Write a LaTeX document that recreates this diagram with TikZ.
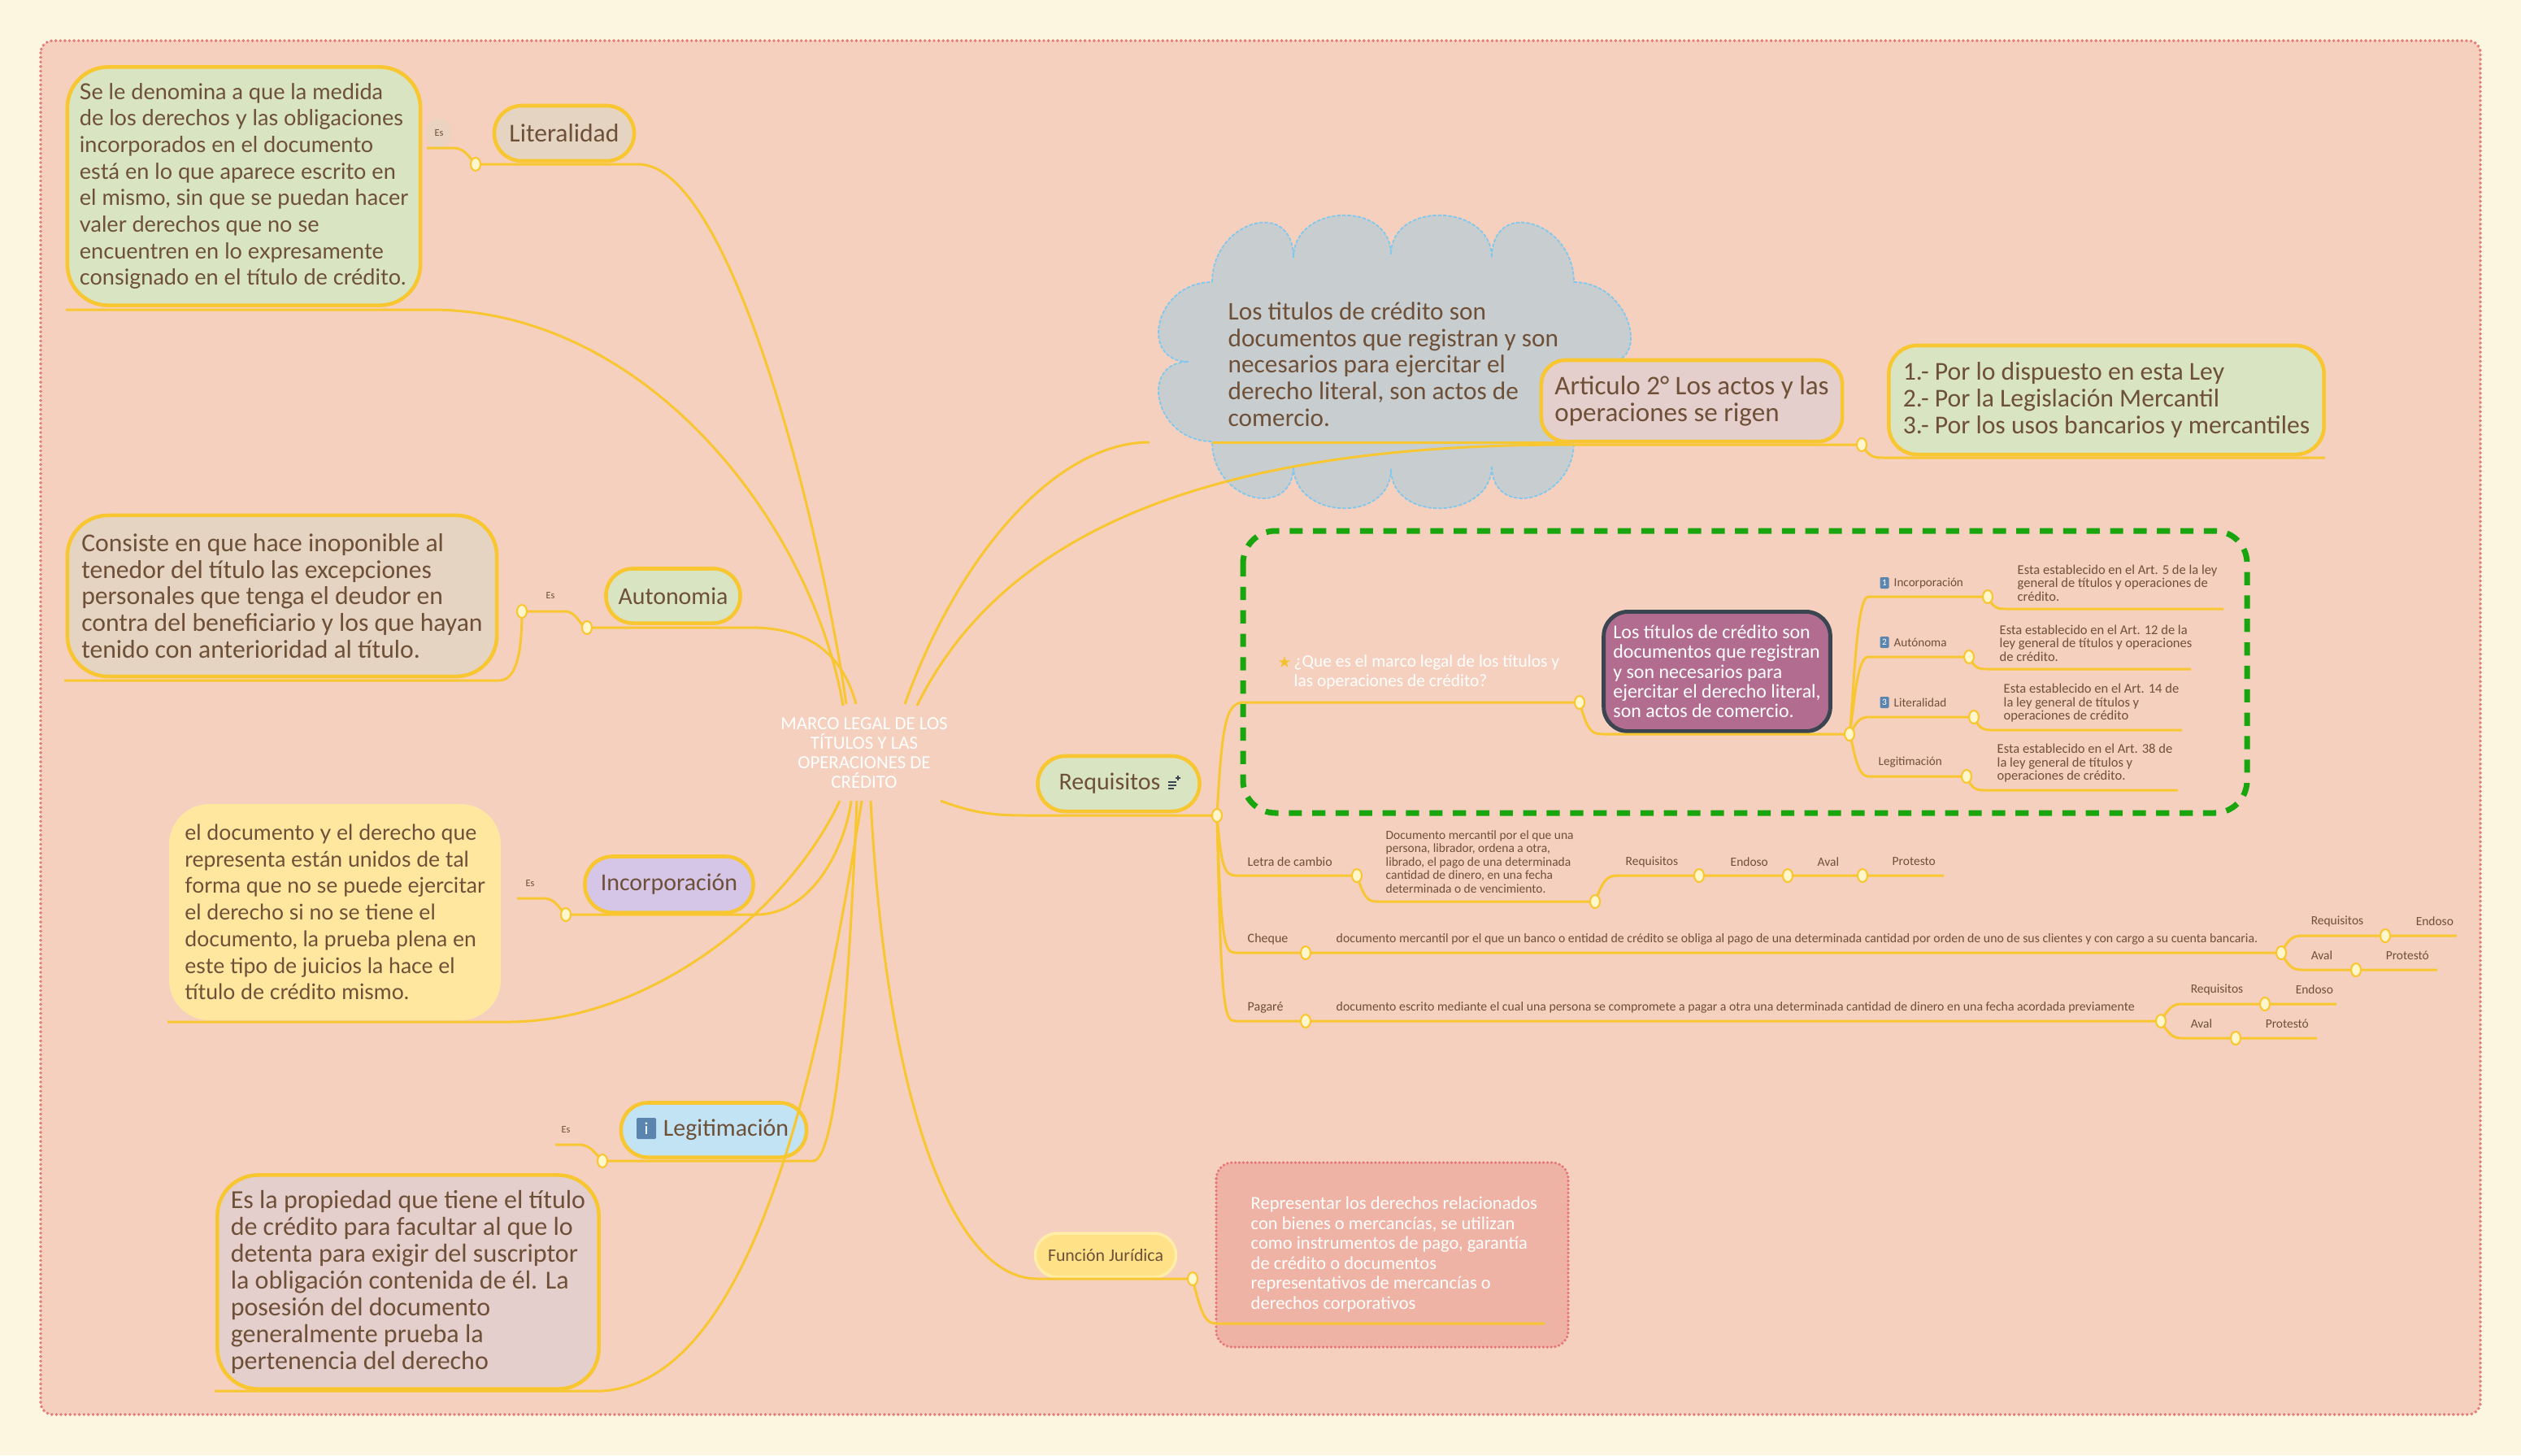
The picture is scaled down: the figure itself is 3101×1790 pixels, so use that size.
\documentclass[tikz,border=0pt]{standalone}
\usepackage{fontspec}
\setmainfont{Carlito}
\newfontfamily\roundfont{Lato}
\newfontfamily\symfont{DejaVu Sans}
\usetikzlibrary{shapes.geometric}
\definecolor{pagebg}{HTML}{FCF5E0}
\definecolor{mapbg}{HTML}{F5D0BE}
\definecolor{mapborder}{HTML}{E37B76}
\definecolor{yline}{HTML}{F8C630}
\definecolor{brown}{HTML}{6E5038}
\definecolor{greenbox}{HTML}{D9E4C3}
\definecolor{beigebox}{HTML}{E5D4C2}
\definecolor{lavbox}{HTML}{D5C5E6}
\definecolor{yelbox}{HTML}{FFE7A0}
\definecolor{bluebox}{HTML}{C2E3F3}
\definecolor{pinkbox}{HTML}{E5CFCC}
\definecolor{cloudfill}{HTML}{C8CDCF}
\definecolor{cloudline}{HTML}{7CC8F0}
\definecolor{dashgreen}{HTML}{19A50D}
\definecolor{purplebox}{HTML}{B26C8F}
\definecolor{purpleline}{HTML}{3B4552}
\definecolor{funfill}{HTML}{FFE288}
\definecolor{funline}{HTML}{FFEDA8}
\definecolor{redfill}{HTML}{EFB3A5}
\definecolor{redline}{HTML}{E57373}
\definecolor{iconblue}{HTML}{5A85AE}
\definecolor{dotfill}{HTML}{FFF6CC}
\definecolor{stargold}{HTML}{F2C230}
\newcommand\setfs[2]{\fontsize{#1}{#2}\selectfont}

\begin{document}
\begin{tikzpicture}[x=0.01cm,y=-0.01cm]
  \tikzstyle{conn} = [draw=yline, line width=0.85pt]
  \tikzstyle{dot} = [ellipse, draw=yline, fill=dotfill, line width=0.6pt, minimum width=0.12cm, minimum height=0.16cm, inner sep=0pt]
  \tikzstyle{topic} = [draw=yline, line width=1.3pt, text=brown, align=left, inner sep=2pt]
  \tikzstyle{small} = [text=brown, inner sep=0pt, anchor=west, align=left]
  \tikzstyle{icon} = [fill=iconblue, text=white, rounded corners=0.4pt, inner sep=0pt, minimum width=0.11cm, minimum height=0.14cm, font=\setfs{3.2}{4}]
  \tikzstyle{eslabel} = [text=brown, inner sep=0pt, font=\setfs{3.5}{4}]
  \useasboundingbox (0,0) rectangle (3101,1790);
  \fill[pagebg] (0,0) rectangle (3101,1790);
  \filldraw[fill=mapbg, draw=mapborder, line width=1.1pt, dash pattern=on 0pt off 1.6pt, line cap=round, rounded corners=0.15cm] (50,50) rectangle (3051,1740);

  \node (mc) [text=white, align=center, font=\setfs{6.5}{6.8}] at (1063,926) {MARCO LEGAL DE LOS\\TÍTULOS Y LAS\\OPERACIONES DE\\CRÉDITO};

  \node (lit) [topic, fill=beigebox, rounded corners=0.34cm, minimum width=1.72cm, minimum height=0.68cm, font=\setfs{9}{10}] at (694,164) {Literalidad};
  \node (litdesc) [topic, fill=greenbox, rounded corners=0.5cm, minimum width=4.34cm, minimum height=2.93cm, font=\roundfont\setfs{7.7}{9.3}] at (300,229) {Se le denomina a que la medida\\de los derechos y las obligaciones\\incorporados en el documento\\está en lo que aparece escrito en\\el mismo, sin que se puedan hacer\\valer derechos que no se\\encuentren en lo expresamente\\consignado en el título de crédito.};
  \node (litesbg) [ellipse, fill=beigebox!70!mapbg, minimum width=0.3cm, minimum height=0.36cm, inner sep=0pt] at (540,164) {};
  \node (lites) [eslabel] at (540,164) {Es};

  \node (aut) [topic, fill=greenbox, rounded corners=0.33cm, minimum width=1.65cm, minimum height=0.67cm, font=\setfs{8.5}{10}] at (828,733) {Autonomia};
  \node (autdesc) [topic, fill=beigebox, rounded corners=0.5cm, minimum width=5.28cm, minimum height=1.98cm, font=\setfs{9}{9.3}] at (347,733) {Consiste en que hace inoponible al\\tenedor del título las excepciones\\personales que tenga el deudor en\\contra del beneficiario y los que hayan\\tenido con anterioridad al título.};
  \node (autes) [eslabel] at (677,733) {Es};

  \node (inc) [topic, fill=lavbox, rounded corners=0.34cm, minimum width=2.07cm, minimum height=0.69cm, font=\setfs{8.5}{10}] at (823,1088) {Incorporación};
  \node (incdesc) [fill=yelbox, text=brown, align=left, rounded corners=0.5cm, minimum width=4.08cm, minimum height=2.66cm, font=\roundfont\setfs{7.55}{9.3}] at (412,1122) {el documento y el derecho que\\representa están unidos de tal\\forma que no se puede ejercitar\\el derecho si no se tiene el\\documento, la prueba plena en\\este tipo de juicios la hace el\\título de crédito mismo.};
  \node (inces) [eslabel] at (652,1087) {Es};

  \node (leg) [topic, fill=bluebox, rounded corners=0.33cm, minimum width=2.28cm, minimum height=0.67cm, font=\setfs{8.5}{10}] at (878,1390) {\hspace{0.3cm}Legitimación};
  \node (legicon) [icon, minimum width=0.24cm, minimum height=0.26cm, font=\setfs{6}{7}] at (795,1388) {i};
  \node (legdesc) [topic, fill=pinkbox, rounded corners=0.5cm, minimum width=4.69cm, minimum height=2.63cm, font=\setfs{9.1}{9.4}] at (502,1577) {Es la propiedad que tiene el título\\de crédito para facultar al que lo\\detenta para exigir del suscriptor\\la obligación contenida de él. La\\posesión del documento\\generalmente prueba la\\pertenencia del derecho};
  \node (leges) [eslabel] at (696,1390) {Es};

  \filldraw[fill=cloudfill, draw=cloudline, line width=0.5pt, dash pattern=on 1.2pt off 0.6pt]
    (1491,347) .. controls (1491,272) and (1591,242) .. (1591,317)
    .. controls (1591,250) and (1711,246) .. (1711,313)
    .. controls (1711,246) and (1835,250) .. (1835,317)
    .. controls (1835,242) and (1936,272) .. (1936,347)
    .. controls (2005,347) and (2030,445) .. (1979,445)
    .. controls (2030,445) and (2005,543) .. (1936,543)
    .. controls (1936,618) and (1835,640) .. (1835,573)
    .. controls (1835,640) and (1711,644) .. (1711,577)
    .. controls (1711,644) and (1591,640) .. (1591,573)
    .. controls (1591,640) and (1491,618) .. (1491,543)
    .. controls (1420,543) and (1400,445) .. (1462,445)
    .. controls (1400,445) and (1420,347) .. (1491,347) -- cycle;
  \node (cloudtxt) [small, font=\setfs{8.9}{9.3}] at (1510,448) {Los titulos de crédito son\\documentos que registran y son\\necesarios para ejercitar el\\derecho literal, son actos de\\comercio.};

  \node (art) [topic, fill=pinkbox, rounded corners=0.3cm, minimum width=3.70cm, minimum height=1.00cm, font=\setfs{9.4}{9.4}] at (2081,493) {Articulo 2° Los actos y las\\operaciones se rigen};
  \node (ley) [topic, fill=greenbox, rounded corners=0.35cm, minimum width=5.35cm, minimum height=1.34cm, font=\setfs{9}{9.4}] at (2591,492) {1.- Por lo dispuesto en esta Ley\\2.- Por la Legislación Mercantil\\3.- Por los usos bancarios y mercantiles};

  \node (req) [topic, fill=greenbox, rounded corners=0.34cm, minimum width=1.99cm, minimum height=0.68cm, font=\setfs{8.5}{10}] at (1376,964) {Requisitos\hspace{0.22cm}};
  \draw[purpleline, line width=0.8pt] (1437,962) -- (1447,962) (1437,966) -- (1447,966) (1437,970) -- (1444,970) (1446,957) -- (1452,957) (1449,954) -- (1449,960);

  \draw[dashgreen, line width=2pt, dash pattern=on 4.6pt off 3.6pt, rounded corners=0.4cm] (1529,653) rectangle (2764,1000);
  \node (questar) [text=stargold, inner sep=0pt, font=\symfont\setfs{5.5}{6}] at (1580,815) {★};
  \node (que) [small, text=white, font=\setfs{6.1}{6.8}] at (1591,827) {¿Que es el marco legal de los títulos y\\las operaciones de crédito?};
  \node (tit) [draw=purpleline, line width=1.4pt, fill=purplebox, text=white, align=left, rounded corners=0.3cm, minimum width=2.76cm, minimum height=1.47cm, font=\setfs{6.8}{6.9}] at (2112,826) {Los títulos de crédito son\\documentos que registran\\y son necesarios para\\ejercitar el derecho literal,\\son actos de comercio.};

  \foreach \n/\y/\t in {1/717/Incorporación, 2/790/Autónoma, 3/864/Literalidad}{
    \node (ic\n) [icon] at (2318,\y) {\n};
    \node (lb\n) [small, font=\setfs{4.3}{5}] at (2329,\y) {\t};
  }
  \node (lb4) [small, font=\setfs{4.3}{5}] at (2310,938) {Legitimación};
  \node (bd1) [small, font=\setfs{4.7}{4.7}] at (2481,717) {Esta establecido en el Art. 5 de la ley\\general de títulos y operaciones de\\crédito.};
  \node (bd2) [small, font=\setfs{4.7}{4.7}] at (2459,791) {Esta establecido en el Art. 12 de la\\ley general de títulos y operaciones\\de crédito.};
  \node (bd3) [small, font=\setfs{4.7}{4.7}] at (2464,865) {Esta establecido en el Art. 14 de\\la ley general de títulos y\\operaciones de crédito};
  \node (bd4) [small, font=\setfs{4.7}{4.7}] at (2456,939) {Esta establecido en el Art. 38 de\\la ley general de títulos y\\operaciones de crédito.};

  \node (let) [small, font=\setfs{4.55}{5}] at (1534,1060) {Letra de cambio};
  \node (letdesc) [small, font=\setfs{4.4}{4.65}] at (1704,1060) {Documento mercantil por el que una\\persona, librador, ordena a otra,\\librado, el pago de una determinada\\cantidad de dinero, en una fecha\\determinada o de vencimiento.};
  \node (che) [small, font=\setfs{4.55}{5}] at (1534,1155) {Cheque};
  \node (chedesc) [small, font=\setfs{4.5}{5}] at (1643,1155) {documento mercantil por el que un banco o entidad de crédito se obliga al pago de una determinada cantidad por orden de uno de sus clientes y con cargo a su cuenta bancaria.};
  \node (pag) [small, font=\setfs{4.55}{5}] at (1534,1239) {Pagaré};
  \node (pagdesc) [small, font=\setfs{4.5}{5}] at (1643,1239) {documento escrito mediante el cual una persona se compromete a pagar a otra una determinada cantidad de dinero en una fecha acordada previamente};
  \foreach \n/\x/\y/\t in {lr/1999/1060/Requisitos, le/2128/1060/Endoso, la/2235/1060/Aval, lp/2327/1060/Protesto,
      cr/2842/1133/Requisitos, ce/2971/1133/Endoso, ca/2842/1175/Aval, cp/2934/1175/Protestó,
      pr/2694/1217/Requisitos, pe/2823/1217/Endoso, pa/2694/1259/Aval, pp/2786/1259/Protestó}
    \node (\n) [small, font=\setfs{4.4}{5}] at (\x,\y) {\t};

  \node (fun) [draw=funline, line width=1pt, fill=funfill, text=brown, rounded corners=0.27cm, minimum width=1.73cm, minimum height=0.54cm, font=\setfs{6.2}{7}] at (1360,1544) {Función Jurídica};
  \filldraw[fill=redfill, draw=redline, line width=1pt, dash pattern=on 0pt off 1.4pt, line cap=round, rounded corners=0.2cm] (1496,1430) rectangle (1929,1657);
  \node (fundesc) [small, text=white, font=\setfs{6.4}{7}] at (1538,1543) {Representar los derechos relacionados\\con bienes o mercancías, se utilizan\\como instrumentos de pago, garantía\\de crédito o documentos\\representativos de mercancías o\\derechos corporativos};

  \coordinate (ct1) at (1041,866); \coordinate (ct2) at (1037,868); \coordinate (ct3) at (1053,866);
  \coordinate (ct4) at (1113,866); \coordinate (ct5) at (1128,868);
  \coordinate (cb1) at (1033,985); \coordinate (cb2) at (1047,985); \coordinate (cb3) at (1054,985);
  \coordinate (cb4) at (1060,985); \coordinate (cb5) at (1071,985); \coordinate (cb6) at (1157,985);
  \coordinate (litdot) at (585,202); \coordinate (lite) at (785,202); \coordinate (litl) at (525,182); \coordinate (lit1) at (558,182);
  \coordinate (ldl) at (81,381); \coordinate (ldr) at (530,381);
  \coordinate (autdot) at (722,772); \coordinate (aute) at (924,772); \coordinate (autesdot) at (642,752); \coordinate (aut1) at (695,752);
  \coordinate (adl) at (79,837); \coordinate (adr) at (614,837);
  \coordinate (incdot) at (696,1125); \coordinate (ince) at (930,1125); \coordinate (incl) at (636,1105); \coordinate (inc1) at (669,1105);
  \coordinate (idl) at (206,1257); \coordinate (idr) at (624,1257);
  \coordinate (legdot) at (741,1428); \coordinate (lege) at (1000,1428); \coordinate (legl) at (683,1408); \coordinate (leg1) at (712,1408);
  \coordinate (gdl) at (264,1711); \coordinate (gdr) at (740,1711);
  \coordinate (funl) at (1276,1573); \coordinate (fundot) at (1467,1573); \coordinate (fdl) at (1496,1628); \coordinate (fdr) at (1900,1628);
  \coordinate (reql) at (1273,1003); \coordinate (reqdot) at (1497,1003);
  \coordinate (cloudl) at (1414,544); \coordinate (cul) at (1491,544); \coordinate (cur) at (1930,544);
  \coordinate (artl) at (1930,547); \coordinate (artdot) at (2290,547); \coordinate (leyl) at (2319,563); \coordinate (leyr) at (2860,563);
  \coordinate (quel) at (1530,864); \coordinate (quedot) at (1943,864); \coordinate (titl) at (1972,903); \coordinate (titdot) at (2275,903);

  \draw[conn] (litdot) -- (lite) .. controls (900,202) and (1010,650) .. (ct1);
  \draw[conn] (litl) -- (lit1) .. controls (572,182) and (578,195) .. (litdot);
  \draw[conn] (ldl) -- (ldr) .. controls (800,381) and (1000,650) .. (ct2);
  \draw[conn] (autdot) -- (aute) .. controls (990,772) and (1035,800) .. (ct3);
  \draw[conn] (autesdot) -- (aut1) .. controls (710,752) and (714,772) .. (autdot);
  \draw[conn] (adl) -- (adr) .. controls (636,837) and (642,800) .. (autesdot);
  \draw[conn] (incdot) -- (ince) .. controls (1000,1125) and (1040,1040) .. (cb2);
  \draw[conn] (incl) -- (inc1) .. controls (683,1105) and (688,1118) .. (incdot);
  \draw[conn] (idl) -- (idr) .. controls (800,1257) and (970,1120) .. (cb1);
  \draw[conn] (legdot) -- (lege) .. controls (1030,1428) and (1045,1200) .. (cb3);
  \draw[conn] (legl) -- (leg1) .. controls (727,1408) and (733,1420) .. (legdot);
  \draw[conn] (gdl) -- (gdr) .. controls (930,1700) and (1010,1300) .. (cb4);
  \draw[conn] (cb5) .. controls (1090,1350) and (1170,1573) .. (funl) -- (fundot);
  \draw[conn] (fundot) .. controls (1478,1620) and (1484,1628) .. (fdl) -- (fdr);
  \draw[conn] (cb6) .. controls (1205,1003) and (1230,1003) .. (reql) -- (reqdot);
  \draw[conn] (ct4) .. controls (1180,680) and (1300,544) .. (cloudl);
  \draw[conn] (cul) -- (cur);
  \draw[conn] (ct5) .. controls (1250,620) and (1560,547) .. (artl) -- (artdot);
  \draw[conn] (artdot) .. controls (2300,563) and (2305,563) .. (leyl) -- (leyr);
  \draw[conn] (reqdot) .. controls (1503,890) and (1508,864) .. (quel) -- (quedot);
  \draw[conn] (quedot) .. controls (1953,900) and (1958,903) .. (titl) -- (titdot);

  \foreach \n/\y/\dx/\dy/\ex in {1/734/2445/749/2735, 2/808/2422/823/2695, 3/882/2428/898/2684, 4/955/2419/972/2679}{
    \coordinate (b\n l) at (2298,\y); \coordinate (b\n dot) at (\dx,\y);
    \coordinate (b\n dl) at (\dx+24,\dy); \coordinate (b\n dr) at (\ex,\dy);
    \draw[conn] (titdot) .. controls (2280,{\y+(903-\y)*0.75}) and (2283,\y) .. (b\n l) -- (b\n dot);
    \draw[conn] (b\n dot) .. controls (\dx+7,\dy) and (\dx+13,\dy) .. (b\n dl) -- (b\n dr);
  }

  \coordinate (lcl) at (1520,1077); \coordinate (letdot) at (1669,1077); \coordinate (ldl2) at (1694,1109); \coordinate (letddot) at (1962,1109);
  \coordinate (lrl) at (1990,1077); \coordinate (lreqdot) at (2090,1077); \coordinate (lenddot) at (2199,1077); \coordinate (lavdot) at (2291,1077); \coordinate (lpre) at (2391,1077);
  \coordinate (ccl) at (1520,1172); \coordinate (chedot) at (1606,1172); \coordinate (cheddot) at (2806,1172);
  \coordinate (crl) at (2832,1151); \coordinate (creqdot) at (2934,1151); \coordinate (cree) at (3022,1151);
  \coordinate (cal) at (2832,1193); \coordinate (cavdot) at (2898,1193); \coordinate (cave) at (2998,1193);
  \coordinate (pcl) at (1520,1256); \coordinate (pagdot) at (1606,1256); \coordinate (pagddot) at (2658,1256);
  \coordinate (prl) at (2684,1235); \coordinate (preqdot) at (2786,1235); \coordinate (pree) at (2874,1235);
  \coordinate (pal) at (2684,1277); \coordinate (pavdot) at (2750,1277); \coordinate (pave) at (2850,1277);

  \draw[conn] (reqdot) .. controls (1502,1065) and (1506,1077) .. (lcl) -- (letdot);
  \draw[conn] (letdot) .. controls (1678,1105) and (1683,1109) .. (ldl2) -- (letddot);
  \draw[conn] (letddot) .. controls (1972,1082) and (1977,1077) .. (lrl) -- (lreqdot) -- (lenddot) -- (lavdot) -- (lpre);
  \draw[conn] (reqdot) .. controls (1502,1160) and (1506,1172) .. (ccl) -- (chedot) -- (cheddot);
  \draw[conn] (cheddot) .. controls (2815,1155) and (2820,1151) .. (crl) -- (creqdot) -- (cree);
  \draw[conn] (cheddot) .. controls (2815,1189) and (2820,1193) .. (cal) -- (cavdot) -- (cave);
  \draw[conn] (reqdot) .. controls (1502,1245) and (1506,1256) .. (pcl) -- (pagdot) -- (pagddot);
  \draw[conn] (pagddot) .. controls (2668,1239) and (2673,1235) .. (prl) -- (preqdot) -- (pree);
  \draw[conn] (pagddot) .. controls (2668,1273) and (2673,1277) .. (pal) -- (pavdot) -- (pave);

  \foreach \d in {litdot, autdot, autesdot, incdot, legdot, reqdot, fundot, artdot, quedot, titdot,
      b1dot, b2dot, b3dot, b4dot, letdot, letddot, lreqdot, lenddot, lavdot, chedot, cheddot,
      creqdot, cavdot, pagdot, pagddot, preqdot, pavdot}
    \node[dot] at (\d) {};
\end{tikzpicture}
\end{document}
